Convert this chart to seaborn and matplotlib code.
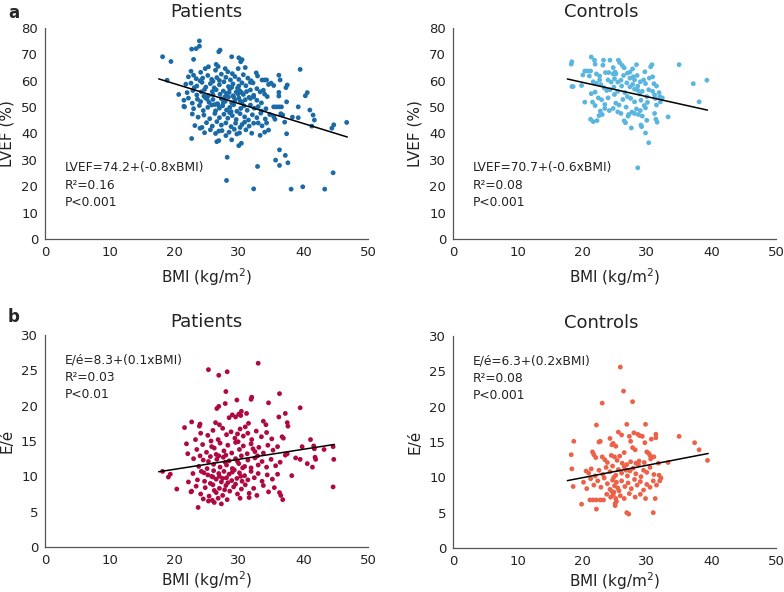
import matplotlib
matplotlib.use("Agg")
import matplotlib.pyplot as plt
import seaborn as sns
import numpy as np
import pandas as pd

# ---------------- data ----------------
# Panel a, patients: (BMI, LVEF)
pat_lvef = [
    (23.9,75.1),(23.4,72.2),(23.9,73.1),(27.1,71.6),(26.9,71.0),(22.7,72.0),
    (18.2,69.1),(19.5,67.3),(23.0,68.1),(28.9,69.1),(30.0,68.7),(30.3,67.2),(30.5,68.0),
    (25.3,65.3),(26.5,66.2),(26.8,65.4),(27.9,64.6),(24.8,64.6),(29.9,64.6),(31.0,65.0),(32.7,63.0),
    (39.5,64.3),(26.4,64.0),(28.3,63.4),(22.6,63.6),(24.1,63.2),
    (18.9,60.2),(22.2,61.5),(23.0,62.1),(23.4,60.8),(24.4,61.0),(25.2,62.0),(25.8,60.5),(26.6,61.2),
    (27.3,62.5),(28.0,61.3),(28.7,60.3),(29.4,61.6),(30.0,60.5),(30.7,62.3),(31.4,61.0),(32.9,61.8),
    (33.6,60.3),(34.0,60.3),(34.3,60.3),(36.2,62.1),(36.4,60.3),(29.0,62.7),(24.0,60.0),(27.0,60.1),(31.9,60.0),
    (21.8,58.7),(22.6,59.1),(23.5,58.0),(24.3,59.4),(24.9,57.6),(25.6,58.9),(26.2,57.3),(27.0,58.5),
    (27.7,59.6),(28.4,57.8),(29.1,58.8),(29.8,57.2),(30.5,59.2),(31.1,58.1),(31.8,59.4),(32.2,59.2),
    (32.8,57.0),(34.6,58.6),(35.0,59.1),(35.4,58.2),(37.5,58.4),(37.3,57.4),(28.9,57.5),(26.0,59.8),
    (30.0,58.0),(23.1,57.4),
    (20.7,54.8),(22.0,55.5),(22.9,56.3),(23.5,54.6),(24.2,55.8),(24.7,56.7),(25.3,54.4),(25.9,55.9),
    (26.5,56.6),(27.1,54.9),(27.6,56.1),(28.1,55.2),(28.6,56.9),(29.1,54.3),(29.6,55.7),(30.1,56.3),
    (30.7,54.8),(31.2,55.9),(31.8,56.5),(32.3,54.5),(33.3,55.8),(33.8,56.4),(34.0,54.9),(34.4,54.0),
    (36.2,55.6),(36.2,54.2),(40.3,54.3),(40.6,55.5),(27.9,54.0),(24.6,54.2),(29.9,55.0),(26.0,54.7),
    (28.5,55.6),(30.4,55.6),
    (21.5,52.6),(22.2,53.4),(22.8,51.5),(23.6,53.0),(24.1,52.1),(24.8,53.6),(25.4,51.8),(26.0,52.9),
    (26.7,51.3),(27.3,53.2),(27.9,52.2),(28.4,53.8),(28.9,51.6),(29.4,52.7),(30.0,53.5),(30.5,51.9),
    (31.0,52.8),(31.6,53.7),(31.8,53.3),(32.3,53.9),(32.8,52.6),(33.5,51.6),(37.4,52.0),(29.2,53.9),
    (26.3,51.0),(30.2,52.4),(27.6,51.7),(25.1,53.0),
    (21.5,50.3),(21.6,50.1),(23.0,49.4),(23.9,50.6),(24.5,48.7),(25.2,49.9),(25.8,50.8),(26.4,48.6),
    (27.0,49.6),(27.5,50.5),(28.1,48.9),(28.6,49.9),(29.2,50.9),(29.7,48.4),(30.3,49.5),(30.8,50.5),
    (31.3,48.8),(31.8,50.8),(32.4,49.6),(33.0,50.2),(33.5,48.5),(35.4,50.1),(35.8,50.1),(36.2,50.1),
    (36.6,50.1),(39.2,50.1),(41.0,48.9),(34.2,49.4),(28.8,48.3),(26.8,50.9),
    (22.8,47.4),(23.7,46.2),(24.6,47.0),(25.5,45.6),(26.3,47.6),(27.0,46.0),(27.7,47.3),(28.3,45.8),
    (29.0,46.8),(29.6,45.3),(30.2,47.5),(30.9,46.3),(31.5,45.1),(32.1,47.1),(32.8,46.0),(33.4,47.7),
    (34.1,45.5),(35.4,46.4),(35.6,45.4),(36.5,47.5),(36.8,47.0),(38.3,46.2),(39.2,46.0),
    (41.5,47.0),(41.7,45.1),(34.8,47.2),(28.6,47.9),
    (23.2,43.0),(24.3,42.3),(25.0,44.1),(25.9,42.8),(26.6,44.5),(27.3,43.2),(28.0,44.0),(28.8,42.6),
    (29.5,43.9),(30.2,42.3),(30.9,44.3),(31.6,42.8),(32.3,43.9),(33.0,44.0),(33.6,42.9),(34.3,44.0),
    (37.1,44.3),(41.3,42.8),(44.7,43.3),(44.4,42.0),(46.7,44.2),(24.0,42.0),(30.5,43.4),
    (22.7,38.1),(24.7,40.3),(25.6,41.4),(26.4,40.0),(27.4,41.1),(28.5,40.5),(29.3,41.6),(30.1,40.2),
    (31.1,41.4),(32.0,40.1),(33.3,39.3),(34.0,40.5),(34.6,41.3),(37.4,39.9),(28.0,39.2),(26.9,40.9),(29.7,39.8),
    (26.6,36.9),(26.9,37.3),(30.4,36.3),(30.0,35.4),(28.9,37.6),
    (28.2,31.0),(28.1,22.2),(32.3,19.0),(32.9,27.5),(36.3,33.8),(37.2,31.7),(35.7,29.9),(36.3,27.9),
    (37.6,28.9),(38.1,18.9),(39.9,19.8),(43.3,18.9),(44.6,25.1),
]

# Panel a, controls: (BMI, LVEF)
ctl_lvef = [
    (18.4,67.2),(18.3,66.3),(18.6,57.8),(18.4,57.8),(19.9,58.2),(20.4,51.9),
    (20.4,63.7),(20.8,63.7),(21.3,63.7),(20.1,62.2),(21.1,61.8),(21.4,69.0),(21.9,67.8),(22.0,66.3),
    (22.2,62.6),(22.7,61.8),(23.3,67.8),(23.2,65.9),(24.3,67.8),(25.6,67.8),(25.8,66.9),(26.2,65.8),
    (26.5,64.9),(24.8,65.0),(24.1,63.1),(23.6,63.1),(24.8,62.6),(25.2,62.6),
    (28.4,66.1),(27.8,64.5),(27.4,63.3),(30.8,66.1),(30.6,65.3),(29.7,63.4),(35.0,66.1),(39.3,60.2),
    (37.2,58.9),(38.1,52.0),
    (21.4,55.1),(22.0,55.7),(21.7,59.6),(22.2,59.0),(22.7,60.3),
    (24.0,60.3),(24.5,59.5),(25.0,60.8),(25.5,59.5),(26.0,60.2),
    (23.4,57.3),(23.8,56.3),(24.3,56.6),(21.6,51.9),(22.0,50.6),(22.5,53.5),(23.0,52.8),
    (22.8,48.5),(23.1,47.2),(22.6,46.8),(21.3,45.4),(21.7,44.5),(22.3,44.9),
    (23.5,49.5),(24.2,48.7),(24.8,49.5),(25.5,48.2),(26.0,47.6),(25.7,50.8),(25.2,51.5),
    (26.3,52.9),(26.6,55.5),(26.1,58.0),(26.9,59.2),(27.4,57.7),
    (27.4,61.0),(27.9,61.5),(28.1,60.3),(28.1,56.8),(28.6,56.4),(28.9,55.0),
    (28.1,52.0),(29.1,52.6),(29.6,50.6),(30.1,51.8),(29.8,49.7),
    (28.4,49.3),(29.0,48.7),(28.1,47.6),(28.7,47.2),(29.3,46.6),
    (27.7,48.1),(27.2,47.2),(27.1,46.6),(26.5,44.8),(26.7,44.1),
    (27.6,42.1),(29.1,43.2),(29.2,42.6),(29.8,40.2),(30.3,36.5),(28.6,27.0),
    (29.5,60.3),(29.8,58.9),(30.4,61.0),(30.9,61.5),(31.1,58.9),(30.9,56.0),(30.3,56.6),(31.2,54.6),
    (31.3,53.3),(31.5,50.8),(31.2,47.6),(31.4,45.4),(31.6,44.3),(32.0,54.0),(32.4,53.5),(32.1,52.0),
    (33.3,46.3),
    (27.0,54.0),(27.5,53.3),(25.0,54.8),(25.5,56.0),(24.0,53.5),(23.5,51.0),(26.8,50.0),(27.8,58.6),
    (28.6,58.0),(31.5,58.0),(31.9,55.5),(30.0,54.0),(29.3,56.0),(22.9,58.5),(24.9,57.6),(26.4,62.0),
    (25.1,63.3),(27.0,62.9),(29.0,59.6),(28.5,62.0),(30.0,45.0),
]

# Panel b, patients: (BMI, E/e')
pat_ee = [
    (21.6,16.9),(22.7,17.7),(23.9,17.1),(24.0,17.4),(26.4,17.6),(27.0,17.3),(29.0,18.7),(29.5,18.4),
    (30.0,18.8),(30.3,18.6),(31.0,17.0),(31.5,17.5),(33.8,17.8),(34.2,17.3),(36.2,18.4),(37.6,17.1),
    (37.5,17.6),(28.5,18.3),
    (23.3,15.2),(24.1,16.1),(25.2,15.8),(26.0,16.5),(26.8,15.2),(27.5,16.8),(28.1,15.9),(28.8,16.3),
    (29.4,15.4),(30.2,16.7),(30.7,15.7),(31.4,16.1),(32.0,15.2),(32.7,16.4),(33.5,15.6),(34.3,16.2),
    (35.1,15.3),(36.7,15.6),(36.9,15.4),(25.7,15.0),(29.8,16.0),
    (21.9,14.6),(22.1,13.2),(23.5,13.8),(24.4,14.5),(25.0,13.4),(25.8,14.2),(26.5,13.1),(27.1,14.7),
    (27.7,13.6),(28.3,14.4),(28.9,13.3),(29.5,14.8),(30.1,13.8),(30.7,14.3),(31.3,13.2),(31.9,14.6),
    (32.5,13.5),(33.1,14.1),(33.8,13.3),(34.5,14.4),(35.3,13.7),(36.0,14.2),(37.2,13.0),(37.5,13.2),
    (39.8,14.2),(41.1,15.2),(41.6,14.3),(41.7,13.9),(43.2,13.8),(44.6,14.2),(28.0,13.0),(26.2,14.0),
    (29.9,14.9),(32.2,13.9),
    (23.0,12.5),(23.8,11.4),(24.5,12.3),(25.1,11.1),(25.6,12.8),(26.1,11.7),(26.6,12.4),(27.1,11.3),
    (27.6,12.7),(28.1,11.6),(28.5,12.2),(29.0,11.1),(29.5,12.5),(30.0,11.8),(30.4,12.9),(30.9,11.4),
    (31.4,12.3),(31.9,11.2),(32.5,12.6),(33.0,11.6),(33.6,12.1),(34.3,11.3),(35.0,12.4),(35.7,11.5),
    (36.4,12.0),(38.8,12.6),(39.5,12.4),(40.6,11.8),(41.4,11.3),(41.8,12.7),(41.9,12.4),(44.7,12.4),
    (27.9,12.0),(26.9,12.9),(29.8,12.1),(30.6,11.2),(25.3,12.1),(24.0,12.9),(32.9,12.9),
    (18.2,10.7),(19.1,9.9),(19.4,10.3),(22.2,9.2),(22.9,10.4),(23.6,9.5),(24.2,10.7),(24.7,9.3),
    (25.2,10.2),(25.6,9.0),(26.1,10.8),(26.5,9.6),(26.9,10.4),(27.3,9.2),(27.7,10.7),(28.1,9.8),
    (28.5,10.3),(28.9,9.4),(29.3,10.9),(29.7,9.7),(30.1,10.5),(30.5,9.3),(30.9,10.1),(31.4,9.5),
    (31.9,10.7),(32.4,9.8),(33.0,10.4),(33.6,9.3),(34.4,10.2),(35.2,9.6),(36.0,10.3),(38.2,10.1),
    (26.0,9.9),(27.0,10.0),(28.3,9.1),(29.0,10.6),(30.3,10.0),(24.6,10.5),(25.8,10.0),(27.5,9.7),
    (20.4,8.2),(22.7,7.9),(22.6,7.8),(23.4,8.6),(24.1,7.5),(24.8,8.4),(25.4,7.2),(26.0,8.8),
    (26.5,7.7),(27.0,8.3),(27.5,7.3),(28.0,8.7),(28.6,7.9),(29.2,8.5),(29.8,7.5),(30.4,8.2),
    (31.0,8.8),(31.6,7.6),(32.3,8.3),(32.8,7.3),(33.8,8.7),(34.6,7.8),(35.5,8.4),(36.3,7.7),
    (36.5,7.3),(44.6,8.5),(26.2,8.0),(27.8,8.1),(29.5,8.9),
    (23.7,5.6),(24.5,6.8),(25.3,6.5),(26.2,6.3),(26.8,6.9),(27.3,6.1),(28.2,6.7),(30.2,6.9),
    (31.6,7.0),(36.8,6.7),(25.9,6.6),
    (25.3,25.1),(26.9,24.3),(28.2,24.8),(28.0,22.0),(26.6,19.6),(26.9,19.9),(27.9,20.3),(29.7,20.8),
    (31.9,20.9),(32.0,21.2),(33.0,26.0),(34.6,20.4),(36.3,21.7),(39.5,19.7),(37.2,18.9),(30.4,19.2),
    (31.2,18.9),
]

# Panel b, controls: (BMI, E/e')
ctl_ee = [
    (25.9,25.6),(26.4,22.2),(23.1,20.5),(27.8,20.7),(22.2,17.4),(26.9,17.5),(29.8,17.5),(35.0,15.8),
    (37.4,14.9),(38.1,13.9),(39.4,12.4),
    (18.7,15.1),(18.3,13.2),(18.4,11.2),(18.6,8.7),(19.9,6.2),(22.2,5.5),
    (22.6,15.0),(22.8,15.1),(24.3,15.5),(24.6,14.6),(25.6,16.4),(26.1,16.0),(27.3,15.8),(27.5,15.1),
    (28.0,16.3),(28.6,16.1),(29.3,15.8),(28.9,15.9),(30.7,15.4),(31.4,16.1),(31.4,15.6),(29.7,14.9),
    (27.8,14.2),(28.2,13.9),(25.2,14.4),(24.8,14.8),(30.0,13.6),(26.5,13.5),
    (21.6,13.6),(21.8,13.2),(22.1,12.8),(23.5,12.5),(23.9,12.1),(24.5,13.1),(25.0,12.9),(25.4,12.4),
    (26.2,12.0),(26.9,11.8),(27.5,12.2),(28.3,12.0),(28.8,12.3),(29.6,12.1),(30.5,13.1),(30.6,12.6),
    (30.3,13.4),(31.1,12.9),(31.8,12.0),(33.3,12.1),(25.8,13.0),(23.1,12.9),
    (20.6,10.9),(21.0,10.6),(21.4,11.2),(22.0,10.2),(22.6,11.0),(23.2,10.4),(23.7,11.4),(24.3,10.8),
    (24.7,11.6),(25.2,10.3),(25.6,11.1),(26.1,10.6),(26.5,11.5),(27.0,10.2),(27.4,10.9),(27.9,11.3),
    (28.3,10.5),(28.7,11.8),(29.1,10.1),(29.5,11.0),(30.0,10.7),(30.5,11.4),(31.1,10.4),(31.9,10.3),
    (32.2,9.9),(24.9,10.0),(26.8,11.0),
    (20.2,9.3),(20.7,8.4),(21.3,9.8),(21.8,8.9),(22.4,9.5),(22.9,8.6),(23.4,9.9),(23.9,9.1),
    (24.3,8.3),(24.7,9.6),(25.0,8.8),(25.3,9.3),(25.7,8.1),(26.1,9.5),(26.6,8.7),(27.1,9.2),
    (27.6,8.4),(28.1,9.7),(28.5,8.9),(29.0,9.4),(29.5,8.2),(30.0,9.0),(30.5,8.6),(31.0,9.5),
    (31.5,8.9),(32.0,9.5),(24.6,8.0),(25.5,8.5),
    (21.2,6.8),(21.7,6.8),(22.2,6.8),(22.8,6.8),(23.3,6.8),(23.8,7.6),(24.4,7.2),(24.8,7.5),
    (25.1,6.3),(25.3,6.6),(25.9,7.4),(26.5,7.0),(27.3,7.7),(28.2,7.2),(29.0,7.6),(29.8,7.0),
    (31.3,7.0),(24.9,7.9),(25.2,7.0),
    (26.9,5.0),(27.2,4.8),(31.0,5.0),(25.1,6.0),
]

# Regression lines as drawn (intercept, slope)
fit_intercepts = [74.0, 70.3, 8.15, 6.42]
fit_slopes = [-0.755, -0.544, 0.142, 0.176]

equations = [
    "LVEF=74.2+(-0.8xBMI)\nR\u00b2=0.16\nP<0.001",
    "LVEF=70.7+(-0.6xBMI)\nR\u00b2=0.08\nP<0.001",
    "E/\u00e9=8.3+(0.1xBMI)\nR\u00b2=0.03\nP<0.01",
    "E/\u00e9=6.3+(0.2xBMI)\nR\u00b2=0.08\nP<0.001",
]
titles = ["Patients", "Controls", "Patients", "Controls"]
ylabels = ["LVEF (%)", "LVEF (%)", "E/\u00e9", "E/\u00e9"]
colors = ["#1a6aa6", "#5ab6df", "#b0093f", "#ec6147"]
panel_letters = ["a", "b"]

# ---------------- plotting ----------------
sns.set_theme(style="white")
plt.rcParams["font.family"] = ["DejaVu Sans"]

fig = plt.figure(figsize=(7.84, 5.92), dpi=100)

W, H = 784.0, 592.0
boxes = [  # left, right, top, bottom in pixels
    (45, 368, 28, 239),
    (453, 776, 28, 239),
    (45, 368, 335, 547),
    (453, 776, 336, 548),
]

datasets = [pat_lvef, ctl_lvef, pat_ee, ctl_ee]
ylims = [(0, 80), (0, 80), (0, 30), (0, 30)]
yticks = [np.arange(0, 81, 10), np.arange(0, 81, 10), np.arange(0, 31, 5), np.arange(0, 31, 5)]
text_y = [29.5, 29.5, 27.4, 27.4]
title_x = [0.5, 0.46, 0.5, 0.46]
title_pad = [8, 8, 6, 6]
xlabel_pad = [5, 5, 1.5, 1.5]

for i in range(4):
    l, r, t, b = boxes[i]
    ax = fig.add_axes([l / W, 1 - b / H, (r - l) / W, (b - t) / H])
    df = pd.DataFrame(datasets[i], columns=["bmi", "val"])
    sns.scatterplot(data=df, x="bmi", y="val", ax=ax, color=colors[i], s=12,
                    edgecolor="none", linewidth=0, zorder=2)
    xs = np.array([df["bmi"].min() - 0.6, df["bmi"].max() + 0.1])
    line_df = pd.DataFrame({"x": xs, "y": fit_intercepts[i] + fit_slopes[i] * xs})
    sns.lineplot(data=line_df, x="x", y="y", ax=ax, color="black", linewidth=1.1, zorder=3)

    ax.set_xlim(0, 50)
    ax.set_ylim(*ylims[i])
    ax.set_xticks(np.arange(0, 51, 10))
    ax.set_yticks(yticks[i])
    ax.tick_params(axis="both", length=0, labelsize=9.5, colors="#222222")
    ax.tick_params(axis="y", pad=5)
    ax.tick_params(axis="x", pad=5)
    for s in ["top", "right"]:
        ax.spines[s].set_visible(False)
    for s in ["left", "bottom"]:
        ax.spines[s].set_color("#555555")
        ax.spines[s].set_linewidth(0.9)
    ax.set_xlabel("BMI (kg/m$^2$)", fontsize=11, labelpad=xlabel_pad[i], color="#222222")
    ax.set_ylabel(ylabels[i], fontsize=11, labelpad=5, color="#222222")
    ax.set_title(titles[i], fontsize=13, pad=title_pad[i], x=title_x[i], color="#222222")
    ax.text(3.0, text_y[i], equations[i], fontsize=8.8, va="top", ha="left",
            linespacing=1.45, color="#222222")
    ax.grid(False)

fig.text(8 / W, 1 - 13 / H, panel_letters[0], fontsize=12, fontweight="bold", va="center", ha="left")
fig.text(8 / W, 1 - 317 / H, panel_letters[1], fontsize=12, fontweight="bold", va="center", ha="left")

fig.savefig("out.png", dpi=100)
